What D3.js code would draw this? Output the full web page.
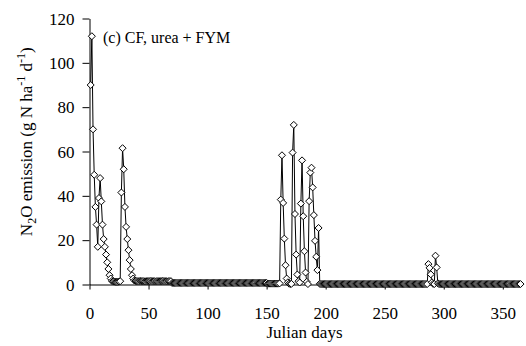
<!DOCTYPE html>
<html><head><meta charset="utf-8">
<script src="https://cdn.jsdelivr.net/npm/d3@7/dist/d3.min.js"></script>
<style>
body{margin:0;background:#fff}
svg{display:block}
text{font-family:"Liberation Serif","Times New Roman",serif;fill:#000}
</style>
</head><body>
<svg id="chart" width="526" height="346"></svg>
<script>
// ---- data (Julian day, N2O emission g N ha-1 d-1) ----
const xTickValues = [0, 50, 100, 150, 200, 250, 300, 350];
const yTickValues = [0, 20, 40, 60, 80, 100, 120];
const titleText = "(c) CF, urea + FYM";
const xLabel = "Julian days";

// days 1-38
const seg1Start = 1;
const seg1 = [90,112,70,49.5,35,27,17,39,48,37.5,
              27,20.5,17,13.5,10,7,4.2,2.7,1.6,1.4,
              1.3,1.2,1.2,1.2,1.3,1.5,41.5,61.5,52,35,
              26,20.5,15.5,11,7,4.2,2.7,1.8];
// days 39-69
const seg2Start = 39;
const seg2 = [1.6,1.5,1.5,1.5,1.6,1.5,1.5,1.5,1.4,1.5,
              1.5,1.5,1.5,1.6,1.5,1.5,1.5,1.4,1.5,1.5,
              1.5,1.5,1.5,1.6,1.5,1.5,1.5,1.4,1.5,1.5,
              1.5];
// days 70-150
const seg3Start = 70;
const seg3 = [0.7,0.7,0.7,0.7,0.7,0.7,0.7,0.7,0.7,0.7,
              0.7,0.7,0.7,0.7,0.7,0.7,0.7,0.7,0.7,0.7,
              0.7,0.7,0.7,0.7,0.7,0.7,0.7,0.7,0.7,0.7,
              0.7,0.7,0.7,0.7,0.7,0.7,0.7,0.7,0.7,0.7,
              0.7,0.7,0.7,0.7,0.7,0.7,0.7,0.7,0.7,0.7,
              0.7,0.7,0.7,0.7,0.7,0.7,0.7,0.7,0.7,0.7,
              0.7,0.7,0.7,0.7,0.7,0.7,0.7,0.7,0.7,0.7,
              0.7,0.7,0.7,0.7,0.7,0.7,0.7,0.7,0.7,0.7,
              0.7];
// days 151-160
const seg4Start = 151;
const seg4 = [0.4,0.4,0.4,0.4,0.4,0.4,0.4,0.4,0.4,0.4];
// days 161-195
const seg5Start = 161;
const seg5 = [0.5,38.3,58.3,36.8,20.7,8.7,2.7,1.0,0.4,0.2,
              0.3,59.5,72,31.8,13.5,4.5,1.5,0.9,36.5,56,
              30.8,15,5.4,1.2,0.2,37.6,50.5,52.7,43.8,31.3,
              19.7,12.5,6.5,25.5,0.3];
// days 196-285
const seg6Start = 196;
const seg6 = [0.2,0.2,0.2,0.2,0.2,0.2,0.2,0.2,0.2,0.2,
              0.2,0.2,0.2,0.2,0.2,0.2,0.2,0.2,0.2,0.2,
              0.2,0.2,0.2,0.2,0.2,0.2,0.2,0.2,0.2,0.2,
              0.2,0.2,0.2,0.2,0.2,0.2,0.2,0.2,0.2,0.2,
              0.2,0.2,0.2,0.2,0.2,0.2,0.2,0.2,0.2,0.2,
              0.2,0.2,0.2,0.2,0.2,0.2,0.2,0.2,0.2,0.2,
              0.2,0.2,0.2,0.2,0.2,0.2,0.2,0.2,0.2,0.2,
              0.2,0.2,0.2,0.2,0.2,0.2,0.2,0.2,0.2,0.2,
              0.2,0.2,0.2,0.2,0.2,0.2,0.2,0.2,0.2,0.2];
// days 286-295
const seg7Start = 286;
const seg7 = [0.2,9.2,7.5,4.6,1,0.3,0.2,13,7.7,0.5];
// days 296-365
const seg8Start = 296;
const seg8 = [0.2,0.2,0.2,0.2,0.2,0.2,0.2,0.2,0.2,0.2,
              0.2,0.2,0.2,0.2,0.2,0.2,0.2,0.2,0.2,0.2,
              0.2,0.2,0.2,0.2,0.2,0.2,0.2,0.2,0.2,0.2,
              0.2,0.2,0.2,0.2,0.2,0.2,0.2,0.2,0.2,0.2,
              0.2,0.2,0.2,0.2,0.2,0.2,0.2,0.2,0.2,0.2,
              0.2,0.2,0.2,0.2,0.2,0.2,0.2,0.2,0.2,0.2,
              0.2,0.2,0.2,0.2,0.2,0.2,0.2,0.2,0.2,0.2];

const segments = [[seg1Start,seg1],[seg2Start,seg2],[seg3Start,seg3],[seg4Start,seg4],
                  [seg5Start,seg5],[seg6Start,seg6],[seg7Start,seg7],[seg8Start,seg8]];
const data = [];
segments.forEach(([s, vals]) => vals.forEach((v, i) => data.push({day: s + i, v})));

// ---- drawing ----
const svg = d3.select("#chart");
const x = d3.scaleLinear().domain([0, 365]).range([89.5, 520.5]);
const y = d3.scaleLinear().domain([0, 120]).range([284.5, 18.5]);
const FS = 17;

// y axis
const gy = svg.append("g").attr("transform", "translate(89.5,0)")
  .call(d3.axisLeft(y).tickValues(yTickValues).tickSize(7).tickSizeOuter(0).tickPadding(8));
gy.selectAll("text").style("font-size", FS + "px").attr("dy", "0.34em");
gy.selectAll("line,path").attr("stroke", "#000");

// x axis
const gx = svg.append("g").attr("transform", "translate(0,284.5)")
  .call(d3.axisBottom(x).tickValues(xTickValues).tickSize(5).tickSizeOuter(0));
gx.selectAll("text").style("font-size", FS + "px").attr("y", 22).attr("dy", "0.71em");
gx.selectAll("line,path").attr("stroke", "#000");

// line
svg.append("path").datum(data)
  .attr("fill", "none").attr("stroke", "#000").attr("stroke-width", 1)
  .attr("d", d3.line().x(d => x(d.day)).y(d => y(d.v)));

// markers
const diamond = "M0,-3.5L3.5,0L0,3.5L-3.5,0Z";
svg.append("g").selectAll("path").data(data).join("path")
  .attr("d", diamond)
  .attr("transform", d => `translate(${x(d.day)},${y(d.v)})`)
  .attr("fill", "#fff").attr("stroke", "#000").attr("stroke-width", 1);

// title
svg.append("text").attr("x", 103).attr("y", 43).style("font-size", "16px").text(titleText);

// x label
svg.append("text").attr("x", 304.5).attr("y", 338).attr("text-anchor", "middle")
  .style("font-size", FS + "px").text(xLabel);

// y label
const yl = svg.append("text").attr("transform", "translate(32,141.7) rotate(-90)")
  .attr("text-anchor", "middle").style("font-size", FS + "px");
yl.append("tspan").text("N");
yl.append("tspan").attr("dy", 4).style("font-size", "12px").text("2");
yl.append("tspan").attr("dy", -4).text("O emission (g N ha");
yl.append("tspan").attr("dy", -7).style("font-size", "12px").text("-1");
yl.append("tspan").attr("dy", 7).text(" d");
yl.append("tspan").attr("dy", -7).style("font-size", "12px").text("-1");
yl.append("tspan").attr("dy", 7).text(")");
</script>
</body></html>
